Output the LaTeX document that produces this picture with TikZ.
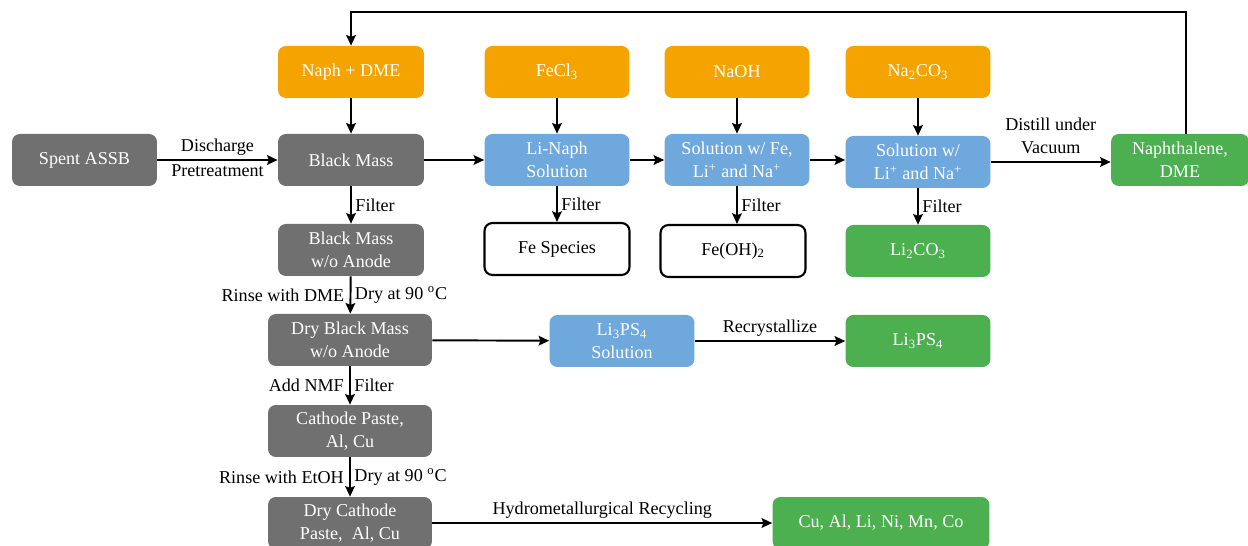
\documentclass[tikz,border=0pt]{standalone}
\usepackage{fontspec}
\setmainfont{Liberation Serif}
\newfontfamily\tnr{Liberation Serif}
\usetikzlibrary{arrows.meta,positioning}
\definecolor{boxgray}{RGB}{112,112,112}
\definecolor{boxorange}{RGB}{245,163,0}
\definecolor{boxblue}{RGB}{111,168,220}
\definecolor{boxgreen}{RGB}{76,175,80}

\begin{document}
\begin{tikzpicture}[x=0.02cm, y=-0.02cm,
    box/.style={rounded corners=4.5pt, minimum width=2.9cm, minimum height=1.04cm, align=center, text=white, inner sep=1pt, font=\tnr\fontsize{10.3}{13}\selectfont},
    gbox/.style={box, fill=boxgray},
    obox/.style={box, fill=boxorange},
    bbox/.style={box, fill=boxblue},
    rbox/.style={box, fill=boxgreen},
    wbox/.style={box, fill=white, draw=black, line width=1.2pt, text=black},
    lbl/.style={font=\tnr\fontsize{10.3}{13}\selectfont, inner sep=2pt, align=center},
    arrow/.style={-{Stealth[length=6pt,width=5.5pt,inset=1pt]}, line width=1.1pt}
]
    \useasboundingbox (0,0) rectangle (1248,546);
    % left column
    \node[gbox] (spent) at (84.5,160) {Spent ASSB};
    \node[gbox, minimum width=2.92cm] (bm) at (351,160) {Black Mass};
    \node[obox, minimum width=2.92cm] (naph) at (351,72) {Naph + DME};
    \node[gbox, minimum width=2.92cm] (bmwo) at (351,250) {Black Mass\\w/o Anode};
    \node[gbox, minimum width=3.28cm] (drybm) at (350,340) {Dry Black Mass\\w/o Anode};
    \node[gbox, minimum width=3.28cm] (paste) at (350,431) {Cathode Paste,\\ Al, Cu};
    \node[gbox, minimum width=3.28cm] (drypaste) at (350,523) {Dry Cathode\\Paste,\ \ Al, Cu};
    % top row
    \node[obox] (fecl) at (557,72) {FeCl\textsubscript{3}};
    \node[bbox] (lin) at (557,160) {Li-Naph\\Solution};
    \node[wbox] (fesp) at (557,249) {Fe Species};
    \node[obox] (naoh) at (737,72) {NaOH};
    \node[bbox] (solfe) at (737,160) {Solution w/ Fe,\\Li\textsuperscript{+} and Na\textsuperscript{+}};
    \node[wbox] (feoh) at (733,251) {Fe(OH)\textsubscript{2}};
    \node[obox] (naco) at (918,72) {Na\textsubscript{2}CO\textsubscript{3}};
    \node[bbox] (solli) at (918,162) {Solution w/\\Li\textsuperscript{+} and Na\textsuperscript{+}};
    \node[rbox] (licarb) at (918,251) {Li\textsubscript{2}CO\textsubscript{3}};
    \node[rbox, minimum width=2.76cm] (naphdme) at (1180,160) {Naphthalene,\\DME};
    % lower rows
    \node[bbox] (lps) at (622,341) {Li\textsubscript{3}PS\textsubscript{4}\\Solution};
    \node[rbox] (lpsg) at (918,341) {Li\textsubscript{3}PS\textsubscript{4}};
    \node[rbox, minimum width=4.34cm] (metals) at (881,523) {Cu, Al, Li, Ni, Mn, Co};

    \draw[arrow] (spent) -- node[lbl, above] {Discharge} node[lbl, below] {Pretreatment} (bm);
    \draw[arrow] (naph) -- (bm);
    \draw[arrow] (bm) -- (lin);
    \draw[arrow] (fecl) -- (lin);
    \draw[arrow] (lin) -- node[lbl, right] {Filter} (fesp);
    \draw[arrow] (lin) -- (solfe);
    \draw[arrow] (naoh) -- (solfe);
    \draw[arrow] (solfe) -- node[lbl, right] {Filter} (solfe |- feoh.north);
    \draw[arrow] (solfe.east) -- (solfe.east -| solli.west);
    \draw[arrow] (naco) -- (solli);
    \draw[arrow] (solli) -- node[lbl, right] {Filter} (licarb);
    \draw[arrow] (solli) -- node[lbl, above, yshift=2pt] {Distill under\\Vacuum} (solli -| naphdme.west);
    % recycle naphthalene and DME
    \draw[arrow] (naphdme.north) ++(6,0) coordinate (up) -- (up |- 0,12) -| (naph.north);
    \draw[arrow] (bm) -- node[lbl, right] {Filter} (bmwo);
    \draw[arrow] (bmwo) -- node[lbl, left, inner xsep=3pt] {Rinse with DME} node[lbl, right] {Dry at 90 \textsuperscript{o}C} (drybm);
    \draw[arrow] (drybm) -- (lps);
    \draw[arrow] (lps) -- node[lbl, above] {Recrystallize} (lpsg);
    \draw[arrow] (drybm) -- node[lbl, left, inner xsep=3pt] {Add NMF} node[lbl, right] {Filter} (paste);
    \draw[arrow] (paste) -- node[lbl, left, inner xsep=3pt] {Rinse with EtOH} node[lbl, right] {Dry at 90 \textsuperscript{o}C} (drypaste);
    \draw[arrow] (drypaste) -- node[lbl, above] {Hydrometallurgical Recycling} (metals);
\end{tikzpicture}
\end{document}
